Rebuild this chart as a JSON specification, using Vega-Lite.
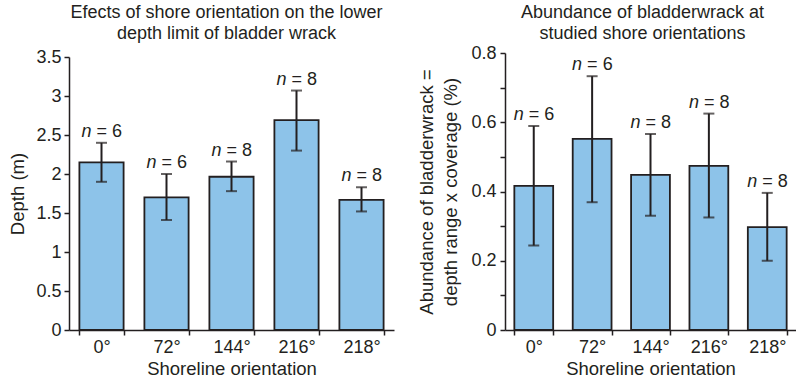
{
  "$schema": "https://vega.github.io/schema/vega-lite/v6.json",
  "autosize": "pad",
  "padding": {"left": 8, "top": 4, "right": 0, "bottom": 0},
  "background": "white",
  "config": {
    "view": {"stroke": null},
    "font": "Liberation Sans",
    "axis": {
      "domainColor": "#231f20", "domainWidth": 1.5, "tickColor": "#231f20", "tickWidth": 1.5,
      "labelColor": "#231f20", "titleColor": "#231f20", "labelFont": "Liberation Sans", "titleFont": "Liberation Sans",
      "labelFontSize": 18, "titleFontSize": 18.5, "titleFontWeight": "normal", "grid": false, "tickSize": 5
    },
    "title": {"font": "Liberation Sans", "fontSize": 18, "fontWeight": "normal", "color": "#231f20", "lineHeight": 21}
  },
  "spacing": 23,
  "datasets": {
    "depth": [
      {"o": "0°", "v": 2.15, "lo": 1.9, "hi": 2.4, "n": "= 6"},
      {"o": "72°", "v": 1.70, "lo": 1.41, "hi": 2.0, "n": "= 6"},
      {"o": "144°", "v": 1.965, "lo": 1.78, "hi": 2.16, "n": "= 8"},
      {"o": "216°", "v": 2.69, "lo": 2.30, "hi": 3.07, "n": "= 8"},
      {"o": "218°", "v": 1.667, "lo": 1.52, "hi": 1.83, "n": "= 8"}
    ],
    "abund": [
      {"o": "0°", "v": 0.416, "lo": 0.244, "hi": 0.589, "n": "= 6"},
      {"o": "72°", "v": 0.552, "lo": 0.369, "hi": 0.733, "n": "= 6"},
      {"o": "144°", "v": 0.448, "lo": 0.33, "hi": 0.566, "n": "= 8"},
      {"o": "216°", "v": 0.474, "lo": 0.325, "hi": 0.625, "n": "= 8"},
      {"o": "218°", "v": 0.297, "lo": 0.2, "hi": 0.396, "n": "= 8"}
    ]
  },
  "hconcat": [
    {
      "width": 325, "height": 277,
      "title": {"text": ["Efects of shore orientation on the lower", "depth limit of bladder wrack"], "anchor": "middle", "frame": "group", "dx": -5, "offset": 5},
      "data": {"name": "depth"},
      "resolve": {"axis": {"y": "independent"}},
      "encoding": {
        "x": {"field": "o", "type": "nominal", "sort": null,
          "scale": {"paddingInner": 0.32, "paddingOuter": 0.16},
          "axis": {"title": "Shoreline orientation", "labelAngle": 0, "tickBand": "extent", "labelPadding": 3, "titlePadding": 3}}
      },
      "layer": [
        {"mark": {"type": "bar", "fill": "#8dc3e9", "stroke": "#231f20", "strokeWidth": 1.8},
         "encoding": {"y": {"field": "v", "type": "quantitative",
           "scale": {"domain": [0, 3.5], "range": [277, 4]},
           "axis": {"title": "Depth (m)", "values": [0, 0.5, 1, 1.5, 2, 2.5, 3, 3.5], "format": "~g", "labelPadding": 3, "titlePadding": 8}}}},
        {"mark": {"type": "rule", "strokeWidth": 2, "color": "#231f20"},
         "encoding": {"y": {"field": "lo", "type": "quantitative", "axis": null}, "y2": {"field": "hi"}}},
        {"mark": {"type": "tick", "size": 11, "thickness": 2, "color": "#231f20", "orient": "horizontal"},
         "encoding": {"y": {"field": "lo", "type": "quantitative", "axis": null}}},
        {"mark": {"type": "tick", "size": 11, "thickness": 2, "color": "#231f20", "orient": "horizontal"},
         "encoding": {"y": {"field": "hi", "type": "quantitative", "axis": null}}},
        {"mark": {"type": "text", "align": "left", "baseline": "alphabetic", "fontStyle": "italic", "fontSize": 18, "dx": -20, "dy": -6, "color": "#231f20"},
         "encoding": {"y": {"field": "hi", "type": "quantitative", "axis": null}, "text": {"value": "n"}}},
        {"mark": {"type": "text", "align": "left", "baseline": "alphabetic", "fontSize": 18, "dx": -5, "dy": -6, "color": "#231f20"},
         "encoding": {"y": {"field": "hi", "type": "quantitative", "axis": null}, "text": {"field": "n"}}}
      ]
    },
    {
      "width": 291, "height": 277,
      "title": {"text": ["Abundance of bladderwrack at", "studied shore orientations"], "anchor": "middle", "frame": "group", "dx": -8, "offset": 1},
      "data": {"name": "abund"},
      "resolve": {"axis": {"y": "independent"}},
      "encoding": {
        "x": {"field": "o", "type": "nominal", "sort": null,
          "scale": {"paddingInner": 0.335, "paddingOuter": 0.16},
          "axis": {"title": "Shoreline orientation", "labelAngle": 0, "tickBand": "extent", "labelPadding": 3, "titlePadding": 3}}
      },
      "layer": [
        {"mark": {"type": "bar", "fill": "#8dc3e9", "stroke": "#231f20", "strokeWidth": 1.8},
         "encoding": {"y": {"field": "v", "type": "quantitative",
           "scale": {"domain": [0, 0.8]},
           "axis": {"title": ["Abundance of bladderwrack =", "depth range x coverage (%)"], "values": [0, 0.1, 0.2, 0.3, 0.4, 0.5, 0.6, 0.7, 0.8],
             "labelExpr": "(round(datum.value*10) % 2 == 0) ? format(datum.value, '~g') : ''", "labelPadding": 4, "titlePadding": 10, "titleLineHeight": 24}}}},
        {"mark": {"type": "rule", "strokeWidth": 2, "color": "#231f20"},
         "encoding": {"y": {"field": "lo", "type": "quantitative", "axis": null}, "y2": {"field": "hi"}}},
        {"mark": {"type": "tick", "size": 11, "thickness": 2, "color": "#231f20", "orient": "horizontal"},
         "encoding": {"y": {"field": "lo", "type": "quantitative", "axis": null}}},
        {"mark": {"type": "tick", "size": 11, "thickness": 2, "color": "#231f20", "orient": "horizontal"},
         "encoding": {"y": {"field": "hi", "type": "quantitative", "axis": null}}},
        {"mark": {"type": "text", "align": "left", "baseline": "alphabetic", "fontStyle": "italic", "fontSize": 18, "dx": -20, "dy": -6, "color": "#231f20"},
         "encoding": {"y": {"field": "hi", "type": "quantitative", "axis": null}, "text": {"value": "n"}}},
        {"mark": {"type": "text", "align": "left", "baseline": "alphabetic", "fontSize": 18, "dx": -5, "dy": -6, "color": "#231f20"},
         "encoding": {"y": {"field": "hi", "type": "quantitative", "axis": null}, "text": {"field": "n"}}}
      ]
    }
  ]
}
